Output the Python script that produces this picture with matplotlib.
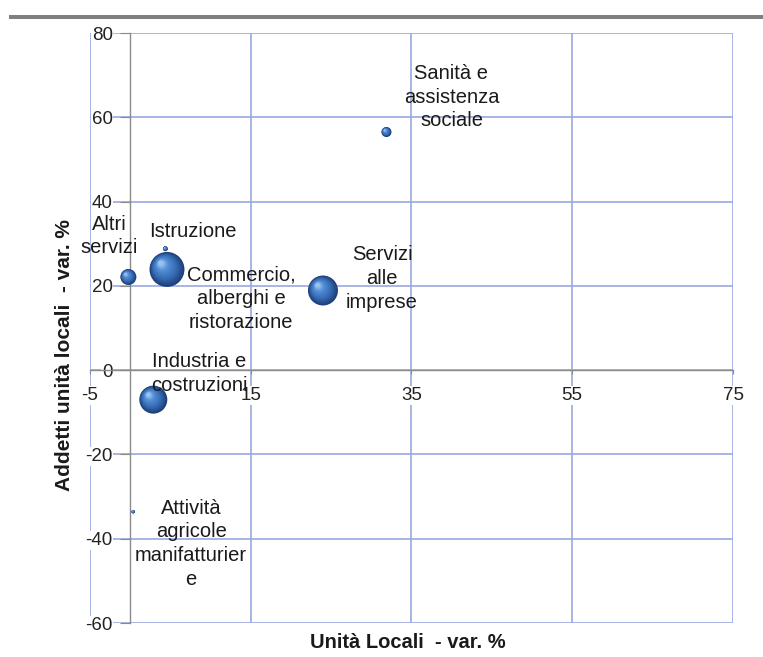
import matplotlib
matplotlib.use("Agg")
import matplotlib.pyplot as plt
from matplotlib.transforms import ScaledTranslation
from matplotlib.patches import Rectangle
from matplotlib.colors import LinearSegmentedColormap
import numpy as np

plt.rcParams['font.family'] = ['Liberation Sans', 'DejaVu Sans']
plt.rcParams['axes.unicode_minus'] = False

# Settori economici: variazione % unità locali (x), variazione % addetti (y), peso della bolla
settori = [
    "Sanità e\nassistenza\nsociale",
    "Altri\nservizi",
    "Istruzione",
    "Commercio,\nalberghi e\nristorazione",
    "Servizi\nalle\nimprese",
    "Industria e\ncostruzioni",
    "Attività\nagricole\nmanifatturier\ne",
]
var_unita_locali = [31.9, -0.2, 4.4, 4.6, 24.0, 2.9, 0.4]
var_addetti = [56.5, 22.1, 28.8, 23.9, 18.9, -7.0, -33.6]
peso = [25, 64, 6, 306, 225, 196, 3]

x_ticks = [-5, 15, 35, 55, 75]
y_ticks = [-60, -40, -20, 0, 20, 40, 60, 80]

# label placement relative to each bubble, in pixels
offset_etichette = [(65, 35), (-19, 41), (27, 17), (74, -29), (59, 12), (46, 26), (58, -32)]

W, H = 763, 657
fig = plt.figure(figsize=(W / 100, H / 100), dpi=100)
ax = fig.add_axes([89.8 / W, (H - 623) / H, (733 - 89.8) / W, (623 - 33) / H])

ax.set_xlim(x_ticks[0], x_ticks[-1])
ax.set_ylim(y_ticks[0], y_ticks[-1])
ax.set_xticks(x_ticks)
ax.set_yticks(y_ticks)

grid_col = '#99a9e2'
ax.grid(True, color=grid_col, linewidth=1.2)
for gl in ax.get_xgridlines() + ax.get_ygridlines():
    gl.set_clip_on(False)

axis_col = '#8a8a8a'
ax.spines['left'].set_position(('data', 0))
ax.spines['bottom'].set_position(('data', 0))
for side in ('left', 'bottom'):
    ax.spines[side].set_color(axis_col)
    ax.spines[side].set_linewidth(1.0)
for side in ('top', 'right'):
    ax.spines[side].set_visible(False)

ax.tick_params(axis='x', direction='out', length=3, pad=9, labelsize=13.5,
               color=axis_col, labelcolor='#222222')
ax.tick_params(axis='y', direction='out', length=7.5, pad=5, labelsize=13.5,
               color=axis_col, labelcolor='#222222')
for lab in ax.get_xticklabels() + ax.get_yticklabels():
    lab.set_bbox(dict(facecolor='white', edgecolor='none', pad=0.5))

# shaded spheres: stacked discs shrinking toward a highlight in the upper-left
shade = LinearSegmentedColormap.from_list(
    'sfera', [(0.0, '#1f3f78'), (0.3, '#3368b0'), (0.7, '#5590d8'), (1.0, '#b0d2f6')])
scala = 2.07  # points^2 per unit of peso
n_layers = 14
for xv, yv, pv in zip(var_unita_locali, var_addetti, peso):
    s0 = pv * scala
    r_pt = np.sqrt(s0) / 2.0
    for k in range(n_layers):
        t = k / n_layers
        s = s0 * (1 - 0.92 * t) ** 2
        shift = 0.38 * r_pt * t / 72.0
        tr = ax.transData + ScaledTranslation(-shift, shift, fig.dpi_scale_trans)
        ax.scatter([xv], [yv], s=s, color=shade(t), edgecolors='none',
                   transform=tr, zorder=3 + k * 0.01, clip_on=False)

for nome, xv, yv, (dx, dy) in zip(settori, var_unita_locali, var_addetti, offset_etichette):
    ax.annotate(nome, (xv, yv), xytext=(dx, dy), textcoords='offset pixels',
                ha='center', va='center', multialignment='center',
                fontsize=14.5, color='#1a1a1a', linespacing=1.32, zorder=5)

fig.text(65 / W, 1 - 355 / H, "Addetti unità locali  - var. %", rotation=90,
         ha='center', va='center', fontsize=15, fontweight='bold', color='#1a1a1a')
fig.text(408 / W, 1 - 643 / H, "Unità Locali  - var. %",
         ha='center', va='center', fontsize=14.5, fontweight='bold', color='#1a1a1a')

fig.patches.append(Rectangle((9 / W, 1 - 18.5 / H), 1, 4 / H, transform=fig.transFigure,
                             facecolor='#808080', edgecolor='none'))

fig.savefig('out.png', dpi=100)
